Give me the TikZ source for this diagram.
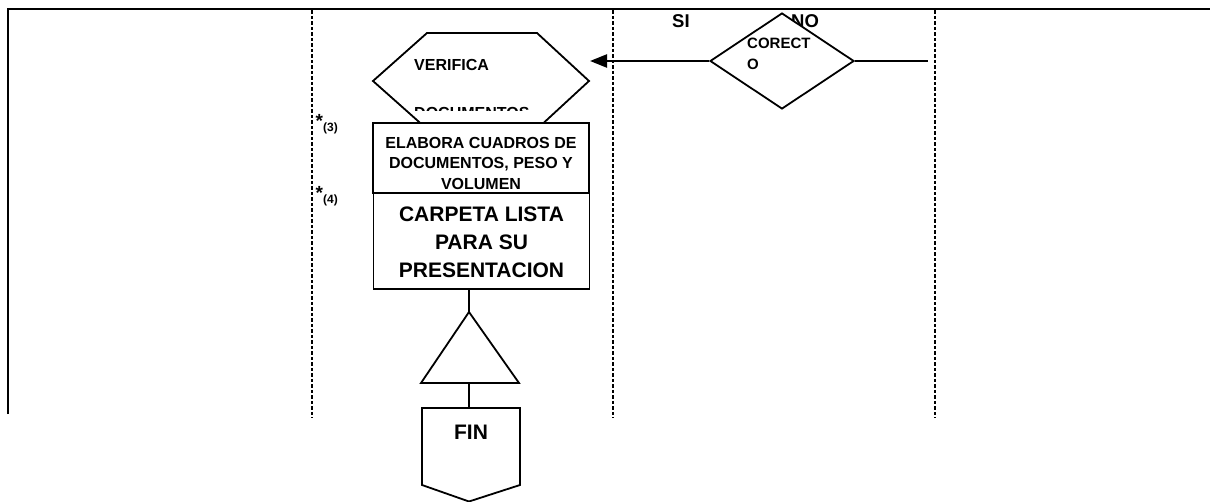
\documentclass[tikz,border=0pt]{standalone}
\usepackage{fontspec}
\setmainfont{Liberation Sans}
\usetikzlibrary{shapes.geometric,arrows.meta}
\begin{document}
\begin{tikzpicture}[x=1pt,y=-1pt,
  frame/.style={line width=2.8pt},
  lane/.style={line width=2pt, dash pattern=on 3.5pt off 2pt},
  outline/.style={draw, line width=1.8pt},
  box/.style={outline, rectangle, fill=white, inner sep=0pt, minimum width=216pt},
  txt/.style={inner sep=0pt, font=\bfseries\fontsize{16}{20.5}\selectfont},
  bigtxt/.style={inner sep=0pt, font=\bfseries\fontsize{21}{28}\selectfont},
  note/.style={inner sep=0pt, font=\bfseries\fontsize{19}{19}\selectfont}
]
\useasboundingbox (0,0) rectangle (1210,502);
% frame and lanes
\draw[frame] (8,414) -- (8,9) -- (1210,9);
\foreach \xx in {312,613,935} \draw[lane] (\xx,10.5) -- (\xx,418);
% hexagon
\coordinate (h1) at (427,33); \coordinate (h2) at (537,33);
\coordinate (h3) at (589,81); \coordinate (h4) at (537,129);
\coordinate (h5) at (427,129); \coordinate (h6) at (373,81);
\draw[line width=1.8pt, line join=miter] (h1) -- (h2) -- (h3) -- (h4) -- (h5) -- (h6) -- cycle;
\node[txt, anchor=base west] (verif) at (414,71) {VERIFICA};
\begin{scope}
  \clip (400,100) rectangle (560,111);
  \node[txt, anchor=base west] (docs) at (414,119) {DOCUMENTOS};
\end{scope}
% rectangles
\node[box, minimum height=70pt] (r1) at (481,158) {};
\node[box, minimum height=96pt] (r2) at (481.5,241) {};
\node[txt, align=center, anchor=north] (t1) at (481,137) {ELABORA CUADROS DE\\DOCUMENTOS, PESO Y\\VOLUMEN};
\node[bigtxt, align=center, anchor=north] (t2) at (481.5,207) {CARPETA LISTA\\PARA SU\\PRESENTACION};
% notes
\node[note, anchor=base west] (n3) at (315.5,128) {*\raisebox{-4pt}{\fontsize{12}{12}\selectfont(3)}};
\node[note, anchor=base west] (n4) at (315.5,200) {*\raisebox{-4pt}{\fontsize{12}{12}\selectfont(4)}};
% triangle
\coordinate (ta) at (469,312); \coordinate (tl) at (421,383); \coordinate (tr) at (519,383);
\coordinate (tb) at (469,383);
\draw[line width=1.8pt] (ta) -- (tr) -- (tl) -- cycle;
\draw[line width=1.8pt] (r2.south -| ta) -- (ta);
% FIN off-page connector
\coordinate (f1) at (422,408); \coordinate (f2) at (520,408);
\coordinate (f3) at (520,485); \coordinate (f4) at (469,501.5); \coordinate (f5) at (422,485);
\coordinate (ftop) at (469,408);
\draw[line width=1.8pt] (f1) -- (f2) -- (f3) -- (f4) -- (f5) -- cycle;
\draw[line width=1.8pt] (tb) -- (ftop);
\node[bigtxt, anchor=base] (fin) at (471,439) {FIN};
% decision
\node[txt, font=\bfseries\fontsize{18.5}{18.5}\selectfont, anchor=base west] (si) at (672,28) {SI};
\node[txt, font=\bfseries\fontsize{18.5}{18.5}\selectfont, anchor=base west] (no) at (791,28) {NO};
\node[outline, diamond, fill=white, inner sep=0pt, minimum width=144pt, minimum height=96pt] (dec) at (782,61) {};
\node[txt, font=\bfseries\fontsize{15}{21}\selectfont, align=left, anchor=north west] (dect) at (747,38) {CORECT\\O};
\coordinate (hexin) at (590,61);
\coordinate (noend) at (928,61);
\draw[line width=2.4pt, -{Triangle[length=17pt,width=13pt]}] (dec.west) -- (hexin);
\draw[line width=1.8pt] (dec.east) -- (noend);
\end{tikzpicture}
\end{document}
